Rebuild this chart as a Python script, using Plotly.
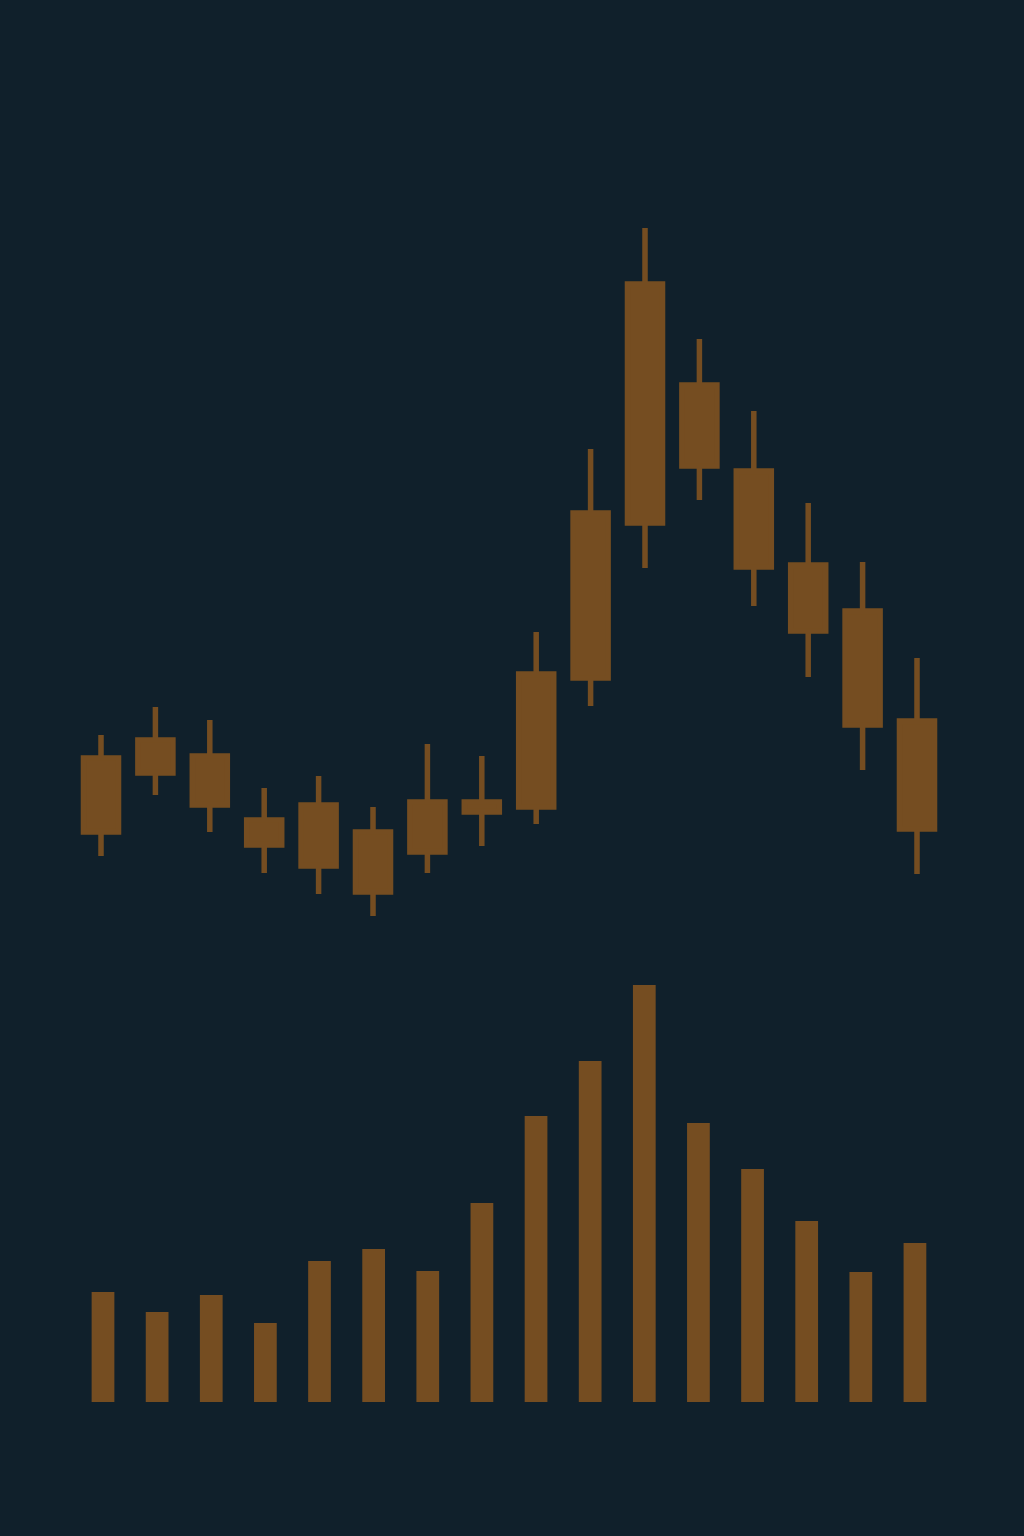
import plotly.graph_objects as go
from plotly.subplots import make_subplots

# Data
periods = list(range(16))
open_ = [104.2, 106.0, 104.4, 98.0, 99.5, 96.8, 99.8, 99.8, 99.3, 112.2, 127.7, 133.4, 123.3, 116.9, 107.5, 97.1]
high = [106.5, 109.3, 108.0, 101.2, 102.4, 99.3, 105.6, 104.4, 116.8, 135.1, 157.2, 146.1, 138.9, 129.7, 123.8, 114.2]
low = [94.4, 100.5, 96.8, 92.7, 90.6, 88.4, 92.7, 95.4, 97.6, 109.4, 123.2, 130.0, 119.4, 112.3, 103.0, 92.6]
close = [96.8, 102.7, 99.5, 95.5, 93.4, 90.8, 94.8, 98.8, 112.6, 128.7, 151.6, 141.5, 132.9, 123.5, 118.9, 107.9]
volume = [1100, 900, 1070, 790, 1410, 1530, 1310, 1990, 2860, 3410, 4170, 2790, 2330, 1810, 1300, 1590]

BG = "#10202b"
BROWN = "#754d21"

fig = make_subplots(rows=2, cols=1, shared_xaxes=False)

fig.add_trace(go.Candlestick(
    x=periods, open=open_, high=high, low=low, close=close,
    increasing=dict(line=dict(color=BROWN, width=5.5), fillcolor=BROWN),
    decreasing=dict(line=dict(color=BROWN, width=5.5), fillcolor=BROWN),
    whiskerwidth=0, showlegend=False, hoverinfo="skip",
), row=1, col=1)

fig.add_trace(go.Bar(
    x=periods, y=volume, width=0.42, marker=dict(color=BROWN, line=dict(width=0)),
    showlegend=False, hoverinfo="skip",
), row=2, col=1)

xr = [-101 / 54.4, (1024 - 101) / 54.4]
xr2 = [-103 / 54.13, (1024 - 103) / 54.13]
axis_common = dict(visible=False, showgrid=False, zeroline=False, fixedrange=True)
fig.update_layout(
    width=1024, height=1536,
    margin=dict(l=0, r=0, t=0, b=0),
    paper_bgcolor=BG, plot_bgcolor=BG,
    boxgap=0.08,
    xaxis=dict(domain=[0, 1], range=xr, rangeslider=dict(visible=False), **axis_common),
    xaxis2=dict(domain=[0, 1], range=xr2, **axis_common),
    yaxis=dict(domain=[0.375, 1], range=[84, 180], **axis_common),
    yaxis2=dict(domain=[1 - 1402 / 1536, 0.375], range=[0, 4420], **axis_common),
)

fig.write_html(
    "out.html",
    config={"displayModeBar": False, "staticPlot": True},
    post_script="document.body.style.margin='0';document.body.style.background='%s';" % BG,
)
